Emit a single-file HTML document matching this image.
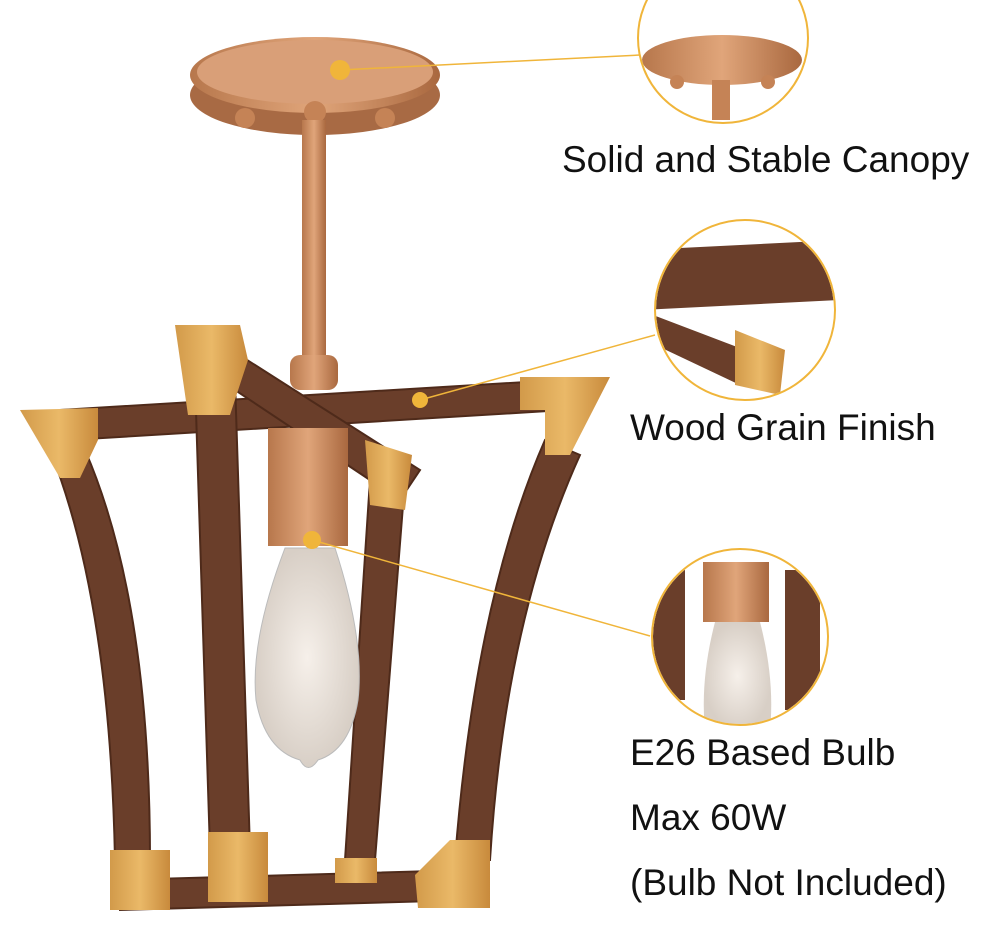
<!DOCTYPE html>
<html><head><meta charset="utf-8"><style>
html,body{margin:0;padding:0;background:#fff;width:990px;height:942px;overflow:hidden}
svg{display:block}
text{font-family:"Liberation Sans",sans-serif;fill:#111}
</style></head><body>
<svg width="990" height="942" viewBox="0 0 990 942">
<defs>
<linearGradient id="cu" x1="0" x2="1"><stop offset="0" stop-color="#b7774c"/><stop offset=".5" stop-color="#e0a57a"/><stop offset="1" stop-color="#a9683f"/></linearGradient>
<linearGradient id="gold" x1="0" x2="1"><stop offset="0" stop-color="#d29a4a"/><stop offset=".5" stop-color="#eab968"/><stop offset="1" stop-color="#c88a3c"/></linearGradient>
<radialGradient id="bulb"><stop offset="0" stop-color="#f6f0ea"/><stop offset="1" stop-color="#d8cfc6"/></radialGradient>
<clipPath id="c1"><circle cx="723" cy="38" r="84"/></clipPath>
<clipPath id="c2"><circle cx="745" cy="310" r="89"/></clipPath>
<clipPath id="c3"><circle cx="740" cy="637" r="87"/></clipPath>
</defs>
<ellipse cx="315" cy="95" rx="125" ry="40" fill="#a86a44"/>
<ellipse cx="315" cy="75" rx="125" ry="38" fill="url(#cu)"/>
<ellipse cx="315" cy="72" rx="118" ry="32" fill="#d99f78"/>
<circle cx="245" cy="118" r="10" fill="#c58356"/>
<circle cx="385" cy="118" r="10" fill="#c58356"/>
<circle cx="315" cy="112" r="11" fill="#c58356"/>
<rect x="302" y="120" width="24" height="240" fill="url(#cu)"/>
<rect x="290" y="355" width="48" height="35" rx="10" fill="url(#cu)"/>
<g fill="#6a3e2a" stroke="#4e2a1a" stroke-width="2">
<polygon points="60,410 560,380 565,410 70,440"/>
<polygon points="200,330 420,470 400,500 190,360"/>
<path d="M50,450 Q110,600 115,860 L150,860 Q150,600 85,450Z"/>
<path d="M195,380 L210,850 L250,850 L235,380Z"/>
<path d="M370,480 L345,860 L375,860 L405,480Z"/>
<path d="M545,440 Q475,600 455,860 L490,860 Q505,620 580,455Z"/>
<polygon points="120,880 470,870 470,900 120,910"/>
</g>
<g fill="url(#gold)">
<polygon points="20,410 98,408 98,440 80,478 60,478"/>
<polygon points="175,325 240,325 248,360 230,415 188,415"/>
<polygon points="520,377 610,377 570,455 545,455 545,410 520,410"/>
<polygon points="365,440 412,455 405,510 370,505"/>
<rect x="110" y="850" width="60" height="60"/>
<rect x="208" y="832" width="60" height="70"/>
<rect x="335" y="858" width="42" height="25"/>
<polygon points="415,875 450,840 490,840 490,908 418,908"/>
</g>
<rect x="268" y="428" width="80" height="118" fill="url(#cu)"/>
<path d="M285,548 L335,548 Q365,640 358,700 Q350,750 318,760 Q308,775 300,760 Q265,750 256,700 Q250,640 285,548Z" fill="url(#bulb)" stroke="#bbb"/>
<g stroke="#f0b53a" stroke-width="1.5">
<line x1="340" y1="70" x2="640" y2="55"/>
<line x1="420" y1="400" x2="655" y2="335"/>
<line x1="312" y1="540" x2="650" y2="636"/>
</g>
<g fill="#f0b53a"><circle cx="340" cy="70" r="10"/><circle cx="420" cy="400" r="8"/><circle cx="312" cy="540" r="9"/></g>
<g fill="#fff"><circle cx="723" cy="38" r="85"/><circle cx="745" cy="310" r="90"/><circle cx="740" cy="637" r="88"/></g>
<g clip-path="url(#c1)">
<ellipse cx="722" cy="60" rx="80" ry="25" fill="url(#cu)"/>
<rect x="712" y="80" width="18" height="40" fill="#c58356"/>
<circle cx="677" cy="82" r="7" fill="#c58356"/><circle cx="768" cy="82" r="7" fill="#c58356"/>
</g>
<g clip-path="url(#c2)">
<polygon points="640,250 840,240 840,300 640,310" fill="#6a3e2a"/>
<polygon points="640,310 745,350 740,385 645,340" fill="#6a3e2a"/>
<polygon points="735,330 785,350 780,395 735,385" fill="url(#gold)"/>
</g>
<g clip-path="url(#c3)">
<rect x="703" y="562" width="66" height="60" fill="url(#cu)"/>
<path d="M715,622 L760,622 Q775,680 770,730 L705,730 Q700,680 715,622Z" fill="url(#bulb)"/>
<rect x="650" y="570" width="35" height="130" fill="#6a3e2a"/>
<rect x="785" y="570" width="35" height="140" fill="#6a3e2a"/>
</g>
<g stroke="#f0b53a" stroke-width="2" fill="none">
<circle cx="723" cy="38" r="85"/><circle cx="745" cy="310" r="90"/><circle cx="740" cy="637" r="88"/>
</g>
<text x="562" y="172" font-size="37">Solid and Stable Canopy</text>
<text x="630" y="440" font-size="37">Wood Grain Finish</text>
<text x="630" y="765" font-size="37">E26 Based Bulb</text>
<text x="630" y="830" font-size="37">Max 60W</text>
<text x="630" y="895" font-size="37">(Bulb Not Included)</text>
</svg>
</body></html>
